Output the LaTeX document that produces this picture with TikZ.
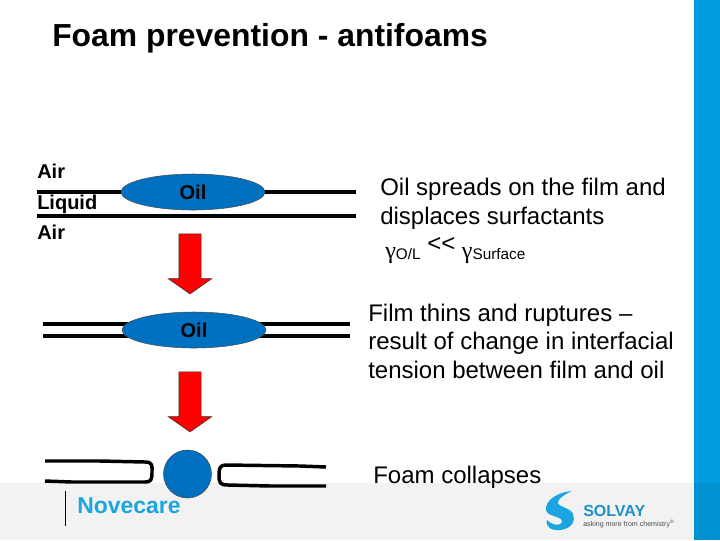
\documentclass[tikz,border=0pt]{standalone}
\usepackage{fontspec}
\setmainfont{Liberation Sans}
\newfontfamily\greekfont{Liberation Serif}
\usepackage{tikz}
\usetikzlibrary{positioning, shapes, arrows}
\definecolor{oilblue}{HTML}{0070C0}
\definecolor{sideblue}{HTML}{009ADE}
\definecolor{sidedark}{HTML}{0092D0}
\definecolor{footgrey}{HTML}{F2F2F2}
\definecolor{novablue}{HTML}{1AA5E0}
\definecolor{solvayblue}{HTML}{1F90C8}
\tikzset{
  film/.style={line width=2.8pt},
  brokenfilm/.style={line width=2.6pt, line join=round},
  oil/.style={ellipse, draw=black!70, line width=.4pt, fill=oilblue, minimum width=108pt, minimum height=27pt, inner sep=0pt, font=\fontsize{15}{18}\selectfont\bfseries},
  drop/.style={circle, draw=black!70, line width=.4pt, fill=oilblue, minimum size=36pt, inner sep=0pt},
  downarrow/.style={single arrow, draw=black!80, line width=.4pt, fill=red, shape border rotate=270, inner sep=8.2pt, minimum width=32pt, minimum height=45pt, single arrow head extend=7.9pt, single arrow tip angle=110, single arrow head indent=0pt},
  phase/.style={anchor=base west, inner sep=0pt, font=\fontsize{15}{18}\selectfont\bfseries},
  remark/.style={anchor=base west, align=left, inner sep=0pt, font=\fontsize{18}{21.5}\selectfont},
}
\begin{document}
\begin{tikzpicture}[x=.75pt, y=-.75pt]
  \useasboundingbox (0,0) rectangle (720,540);
  \fill[footgrey] (0,483) rectangle (694,540);
  \fill[sideblue] (694,0) rectangle (720,483);
  \fill[sidedark] (694,483) rectangle (720,540);

  \node[anchor=base west, inner sep=0pt, font=\fontsize{23.9}{28}\selectfont\bfseries] (title) at (52,46) {Foam prevention - antifoams};

  % first film
  \coordinate (atl) at (37,192);
  \coordinate (atr) at (356,192);
  \coordinate (abl) at (37,216);
  \coordinate (abr) at (356,216);
  \draw[film] (atl) -- (atr);
  \draw[film] (abl) -- (abr);
  \node[oil] (oila) at (193,192) {Oil};
  \node[phase] (airup) at (37,178) {Air};
  \node[phase] (liquid) at (37,209) {Liquid};
  \node[phase] (airlow) at (37,239) {Air};

  \node[downarrow] (arrowa) at (190,260) {};

  % thinned film
  \coordinate (btl) at (43,324);
  \coordinate (btr) at (350,324);
  \coordinate (bbl) at (43,336);
  \coordinate (bbr) at (350,336);
  \draw[film] (btl) -- (btr);
  \draw[film] (bbl) -- (bbr);
  \node[oil] (oilb) at (194,330) {Oil};

  \node[downarrow] (arrowb) at (190,398) {};

  % ruptured film
  \draw[brokenfilm] (45,461) -- (100,461) -- (145,462) .. controls (153,462) and (152,466) .. (152,472)
    .. controls (152,480) and (151,482) .. (145,482) -- (72,482) -- (45,481);
  \draw[brokenfilm] (326,467) -- (300,466) -- (226,465) .. controls (220,465) and (219,468) .. (219,475)
    .. controls (219,483) and (220,485) .. (228,485) -- (270,486) -- (326,486);
  \node[drop] (dropc) at (187.5,474) {};

  % remarks
  \node[remark] (spread) at (380,224) {Oil spreads on the film and\\displaces surfactants};
  \node[anchor=base west, inner sep=0pt, font=\fontsize{18}{21.5}\selectfont] (gamma) at (385,258)
    {{\greekfont γ}{\fontsize{11.5}{14}\selectfont\raisebox{-.2ex}{O/L}} \raisebox{.5ex}{<{}<} {\greekfont γ}{\fontsize{11.5}{14}\selectfont\raisebox{-.2ex}{Surface}}};
  \node[remark] (thins) at (368,378.5) {Film thins and ruptures --\\result of change in interfacial\\tension between film and oil};
  \node[remark] (collapse) at (373,483) {Foam collapses};

  % footer
  \draw[black, line width=.6pt] (65,491) -- (65,526);
  \node[anchor=base west, inner sep=0pt, text=novablue, font=\fontsize{17.2}{20}\selectfont\bfseries] (novecare) at (77,513) {Novecare};
  \fill[novablue] (572,491) .. controls (558,492) and (545,500) .. (546,510) .. controls (547,517) and (563,516) .. (562,522)
    .. controls (561,526) and (553,526) .. (547,520) .. controls (545,527) and (552,531) .. (560,530)
    .. controls (572,529) and (576,520) .. (573,514) .. controls (570,507) and (557,507) .. (558,502) .. controls (559,498) and (565,494) .. (572,491) -- cycle;
  \node[anchor=base west, inner sep=0pt, text=solvayblue, font=\fontsize{12}{14}\selectfont\bfseries] (solvay) at (583,516) {SOLVAY};
  \node[anchor=base west, inner sep=0pt, text=black!70, font=\fontsize{5.3}{6}\selectfont] (slogan) at (583,526) {asking more from chemistry\textsuperscript{®}};
\end{tikzpicture}
\end{document}
